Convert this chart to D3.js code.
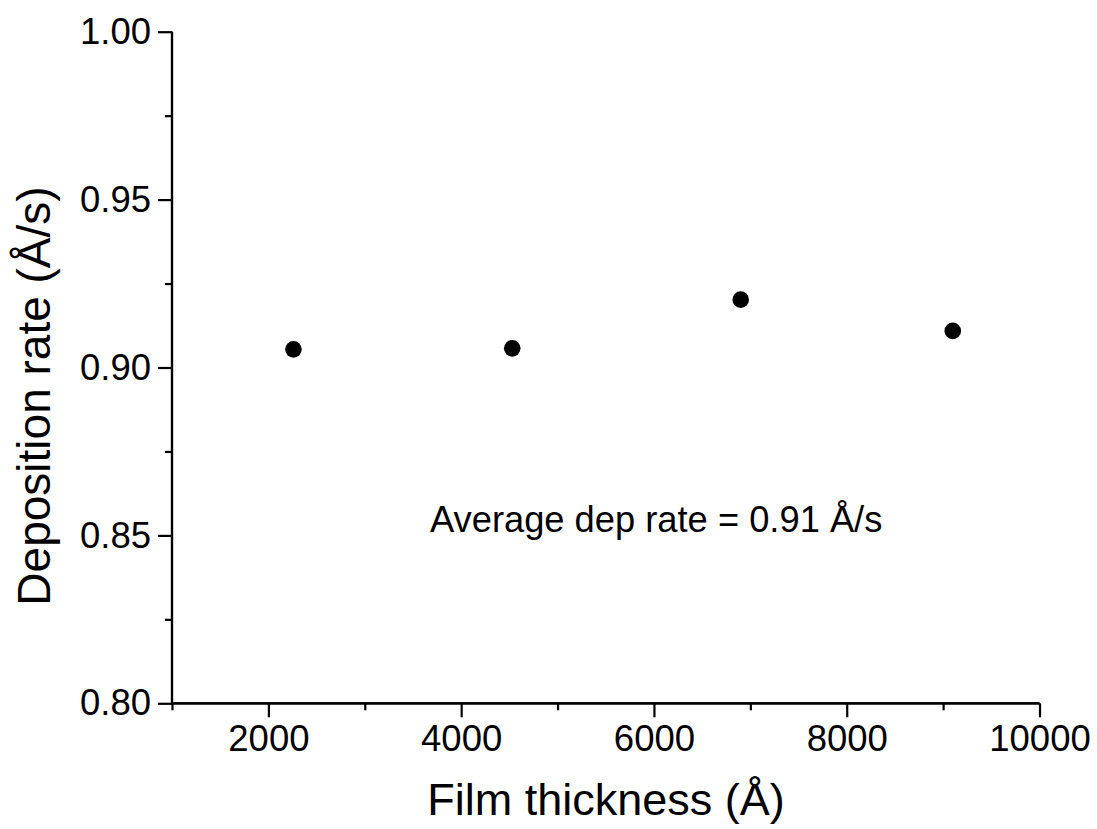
<!DOCTYPE html>
<html><head><meta charset="utf-8">
<script src="https://cdn.jsdelivr.net/npm/d3@7"></script>
<style>
html,body{margin:0;padding:0;background:#fff;}
text{font-family:"Liberation Sans",Arial,sans-serif;fill:#000;}
</style></head>
<body>
<svg id="chart" width="1097" height="829"></svg>
<script>
const thickness = [2260, 4530, 6900, 9100];
const depRate = [0.9054, 0.9057, 0.9202, 0.9109];
const xMajorTicks = [2000, 4000, 6000, 8000, 10000];
const xMinorTicks = [1000, 3000, 5000, 7000, 9000];
const yMajorTicks = [0.80, 0.85, 0.90, 0.95, 1.00];
const yMinorTicks = [0.825, 0.875, 0.925, 0.975];
const xTitle = "Film thickness (Å)";
const yTitle = "Deposition rate (Å/s)";
const note = "Average dep rate = 0.91 Å/s";

const svg = d3.select("#chart");
const x = d3.scaleLinear().domain([1000, 10000]).range([172, 1039.5]);
const y = d3.scaleLinear().domain([0.80, 1.00]).range([703.3, 31.7]);

// X axis
const gx = svg.append("g").attr("transform", `translate(0,${y(0.80)})`);
gx.call(d3.axisBottom(x).tickValues(xMajorTicks).tickSize(14).tickPadding(8).tickFormat(d3.format("d")));
gx.append("g").call(d3.axisBottom(x).tickValues(xMinorTicks).tickSize(7).tickFormat(""));
// Y axis
const gy = svg.append("g").attr("transform", `translate(${x(1000)},0)`);
gy.call(d3.axisLeft(y).tickValues(yMajorTicks).tickSize(14).tickPadding(7).tickFormat(d3.format(".2f")));
gy.append("g").call(d3.axisLeft(y).tickValues(yMinorTicks).tickSize(7).tickFormat(""));

svg.selectAll(".domain").attr("stroke", "#000").attr("stroke-width", 2.2);
svg.selectAll(".tick line").attr("stroke", "#000").attr("stroke-width", 2.2);
svg.selectAll(".tick text").style("font-family", "'Liberation Sans',Arial,sans-serif").style("font-size", "36.5px").attr("fill", "#000");
gx.selectAll(".domain").attr("d", `M${x(1000)},0H${x(10000)}`);
gy.selectAll(".domain").attr("d", `M0,${y(0.80)}V${y(1.00)}`);

// Points
svg.append("g").selectAll("circle").data(thickness).join("circle")
  .attr("cx", (d) => x(d))
  .attr("cy", (d, i) => y(depRate[i]))
  .attr("r", 8.3)
  .attr("fill", "#000");

// Titles
svg.append("text").attr("x", 606).attr("y", 815).attr("text-anchor", "middle")
  .style("font-size", "45px").text(xTitle);
svg.append("text").attr("transform", "translate(50,396) rotate(-90)").attr("text-anchor", "middle")
  .style("font-size", "46px").text(yTitle);
svg.append("text").attr("x", 430).attr("y", 532).style("font-size", "36.3px").text(note);
</script>
</body></html>
